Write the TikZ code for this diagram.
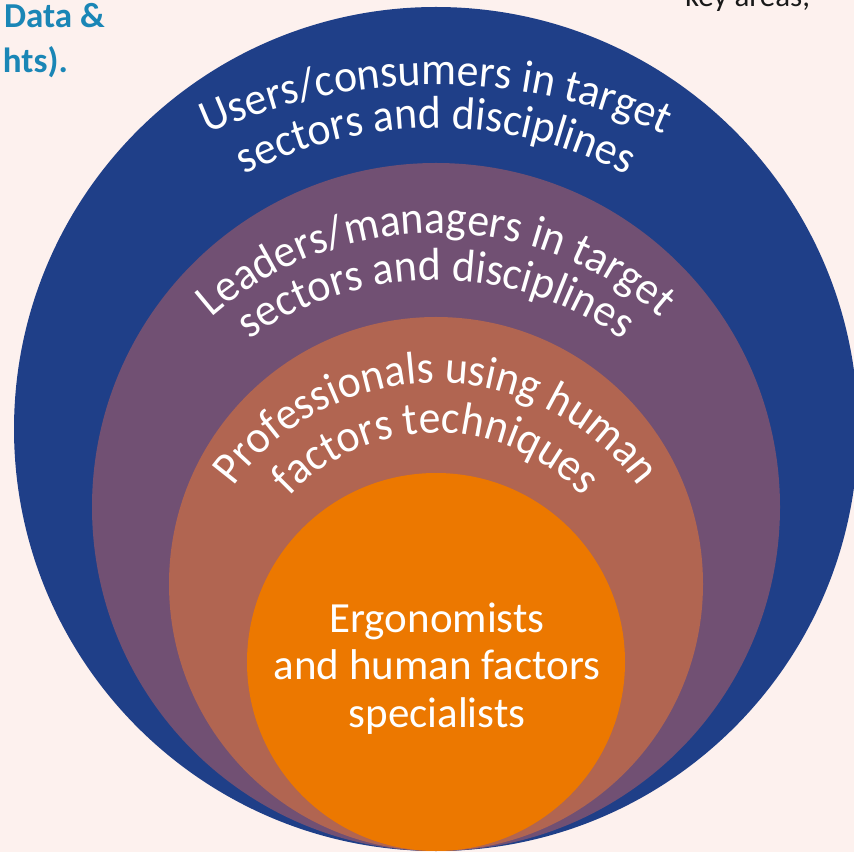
\documentclass[tikz,border=0pt]{standalone}
\usepackage{fontspec}
\setmainfont{Carlito}
\newfontfamily\arcfam[FakeStretch=0.95]{Carlito}
\usetikzlibrary{decorations.text}
\definecolor{bgc}{HTML}{FDF1EE}
\definecolor{ringblue}{HTML}{1F3F88}
\definecolor{ringpurple}{HTML}{715073}
\definecolor{ringbrown}{HTML}{B16551}
\definecolor{ringorange}{HTML}{EC7800}
\definecolor{tealtext}{HTML}{1A86B6}
\newcommand\arcfont{\arcfam\fontsize{46}{52}\selectfont}
\tikzset{
  ring/.style={circle, inner sep=0pt, draw=none},
  arctext/.style={decorate, decoration={text along path, text align=center, text color=white}},
}
\begin{document}
\begin{tikzpicture}[x=1pt,y=1pt]
\useasboundingbox (0,0) rectangle (854,852);
\clip (0,0) rectangle (854,852);
\fill[bgc] (0,0) rectangle (854,852);

\node[ring, fill=ringblue, minimum size=844pt] (outer) at (436,423) {};
\node[ring, fill=ringpurple, minimum size=688pt] (lead) at (436,345) {};
\node[ring, fill=ringbrown, minimum size=534pt] (prof) at (436,268) {};
\node[ring, fill=ringorange, minimum size=378pt] (ergo) at (436,190) {};

% curved labels
\path[arctext, decoration={text={|\arcfont|Users/consumers in target}}]
  (436,212) ++(130:555) arc[start angle=130, end angle=50, radius=555];
\path[arctext, decoration={text={|\arcfont|sectors and disciplines}}]
  (436,312) ++(140:412) arc[start angle=140, end angle=40, radius=412];
\path[arctext, decoration={text={|\arcfont|Leaders/managers in target}}]
  (436,279) ++(145:340) arc[start angle=145, end angle=35, radius=340];
\path[arctext, decoration={text={|\arcfont|sectors and disciplines}}]
  (436,252) ++(145:320) arc[start angle=145, end angle=35, radius=320];
\path[arctext, decoration={text={|\arcfont|Professionals using human}}]
  (436,219) ++(160:250) arc[start angle=160, end angle=20, radius=250];
\path[arctext, decoration={text={|\arcfont|factors techniques}}]
  (436,219) ++(150:200) arc[start angle=150, end angle=30, radius=200];

\node[anchor=base, align=center, text=white, font=\fontsize{43}{47.5}\selectfont, inner sep=0pt]
  (ergotext) at (437,125) {Ergonomists\\and human factors\\specialists};

% cut-off surrounding texts
\node[anchor=base east, text=tealtext, font=\fontsize{35}{40}\selectfont\bfseries, inner sep=0pt]
  (data) at (105,824) {Data \&};
\node[anchor=base east, text=tealtext, font=\fontsize{35}{40}\selectfont\bfseries, inner sep=0pt]
  (hts) at (68,779) {hts).};
\node[anchor=base west, text=black!90, font=\fontsize{31}{36}\selectfont, inner sep=0pt]
  (key) at (685,845) {key areas,};
\end{tikzpicture}
\end{document}
